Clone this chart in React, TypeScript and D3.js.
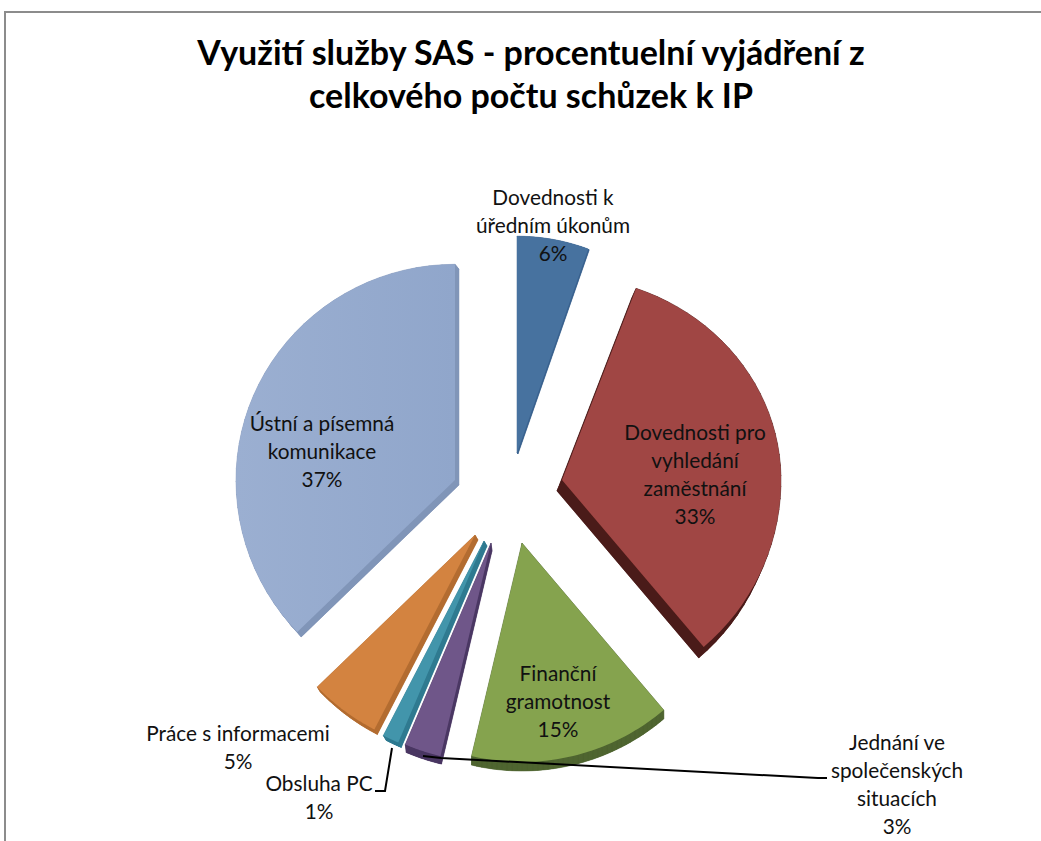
import React, { useEffect, useRef } from 'react';
import * as d3 from 'd3';

const categories = [
  'Dovednosti k úředním úkonům',
  'Dovednosti pro vyhledání zaměstnání',
  'Finanční gramotnost',
  'Jednání ve společenských situacích',
  'Obsluha PC',
  'Práce s informacemi',
  'Ústní a písemná komunikace',
];
const shares = [5.5, 33.3, 14.9, 2.7, 1.2, 5.2, 37.2];
const labelLines = [
  ['Dovednosti k', 'úředním úkonům'],
  ['Dovednosti pro', 'vyhledání', 'zaměstnání'],
  ['Finanční', 'gramotnost'],
  ['Jednání ve', 'společenských', 'situacích'],
  ['Obsluha PC'],
  ['Práce s informacemi'],
  ['Ústní a písemná', 'komunikace'],
];
const titleLines = ['Využití služby SAS - procentuelní vyjádření z', 'celkového počtu schůzek k IP'];

const faceColors = ['#47729f', '#a04644', '#85a34e', '#6f5689', '#4295ab', '#d38340', 'url(#blueFace)'];
const sideColors = ['#3a628f', '#4a1b19', '#4f6530', '#4a3763', '#2f7a90', '#b36c30', '#8095b8'];

// layout of the exploded pie, all in px
const W = 1041;
const H = 841;
const pieCx = 509;
const pieCy = 490;
const radius = 219;
const explodeShift: [number, number][] = [[8, -37], [53, -10], [13, 53], [-18, 53], [-25, 51], [-34, 45], [-54, -10]];
const sideShift: [number, number][] = [[1, 1], [-5, 11], [0, 9], [1, 8], [3, 5], [3, 5], [4, 5]];
const topSquash = [0.99, 0.93, 1, 1, 1, 1, 0.985];
const sideSquash = [0.96, 1, 1, 1, 1, 1, 1];
const labelAnchors: [number, number][] = [[553, 205], [695, 440], [558, 681], [897, 750], [319, 791], [238, 741], [322, 431]];
const lineGap = 28;

const App: React.FC = () => {
  const svgRef = useRef<SVGSVGElement>(null);

  useEffect(() => {
    if (!svgRef.current) return;
    const svg = d3.select(svgRef.current);
    svg.selectAll('*').remove();

    const grad = svg.append('defs').append('linearGradient').attr('id', 'blueFace');
    grad.append('stop').attr('offset', '0%').attr('stop-color', '#9bafd1');
    grad.append('stop').attr('offset', '100%').attr('stop-color', '#90a6cb');

    // chart frame, only the top and left sides are in shot
    svg.append('path')
      .attr('d', `M${W},12 H5 V${H}`)
      .attr('fill', 'none')
      .attr('stroke', '#8c8c8c')
      .attr('stroke-width', 2);

    svg.append('g')
      .selectAll('text')
      .data(titleLines)
      .join('text')
      .attr('x', 531)
      .attr('y', (_, i) => 65 + i * 43)
      .attr('text-anchor', 'middle')
      .attr('font-family', 'Lato, "Noto Sans", sans-serif')
      .attr('font-weight', 700)
      .attr('font-size', 34)
      .attr('fill', '#000')
      .text(d => d);

    const arcs = d3.pie<number>().sort(null).value(d => d)(shares);
    const line = d3.line<[number, number]>();

    const order = [0, 6, 1, 5, 4, 3, 2];
    order.forEach(i => {
      const a = arcs[i];
      const [ox, oy] = explodeShift[i];
      const ax = pieCx + ox;
      const ay = pieCy + oy;
      const k = topSquash[i];
      const steps = d3.range(0, 41).map(s => a.startAngle + (a.endAngle - a.startAngle) * s / 40);
      const rim: [number, number][] = steps.map(t => {
        const c = Math.cos(t);
        return [ax + radius * Math.sin(t) * sideSquash[i], ay - radius * c * (c > 0 ? k : 1)];
      });
      const face: [number, number][] = [[ax, ay], ...rim];
      const [sx, sy] = sideShift[i];
      const base = face.map(p => [p[0] + sx, p[1] + sy] as [number, number]);

      const g = svg.append('g').attr('data-name', categories[i]);
      g.append('path')
        .attr('d', line(base) + 'Z')
        .attr('fill', sideColors[i]);
      // walls between the base and the top face
      face.forEach((p, j) => {
        const n = (j + 1) % face.length;
        g.append('path')
          .attr('d', line([p, face[n], base[n], base[j]]) + 'Z')
          .attr('fill', sideColors[i])
          .attr('stroke', sideColors[i])
          .attr('stroke-width', 0.5);
      });
      g.append('path')
        .attr('d', line(face) + 'Z')
        .attr('fill', faceColors[i]);
    });

    // leader lines
    const leaders: [number, number][][] = [
      [[423, 756], [441, 758], [818, 778], [827, 778]],
      [[392, 748], [385, 791], [375, 791]],
    ];
    svg.append('g')
      .selectAll('path')
      .data(leaders)
      .join('path')
      .attr('d', d => line(d))
      .attr('fill', 'none')
      .attr('stroke', '#000')
      .attr('stroke-width', 2);

    const labels = svg.append('g')
      .attr('font-family', 'Lato, "Noto Sans", sans-serif')
      .attr('font-size', 20.8)
      .attr('fill', '#111')
      .attr('text-anchor', 'middle');
    labelLines.forEach((lines, i) => {
      const [lx, ly] = labelAnchors[i];
      [...lines, `${Math.round(shares[i])}%`].forEach((txt, j) => {
        labels.append('text')
          .attr('x', lx)
          .attr('y', ly + j * lineGap)
          .text(txt);
      });
    });
  }, []);

  return (
    <svg
      ref={svgRef}
      width={W}
      height={H}
      viewBox={`0 0 ${W} ${H}`}
      style={{ position: 'absolute', left: 0, top: 0, background: '#fff' }}
    />
  );
};

export default App;
